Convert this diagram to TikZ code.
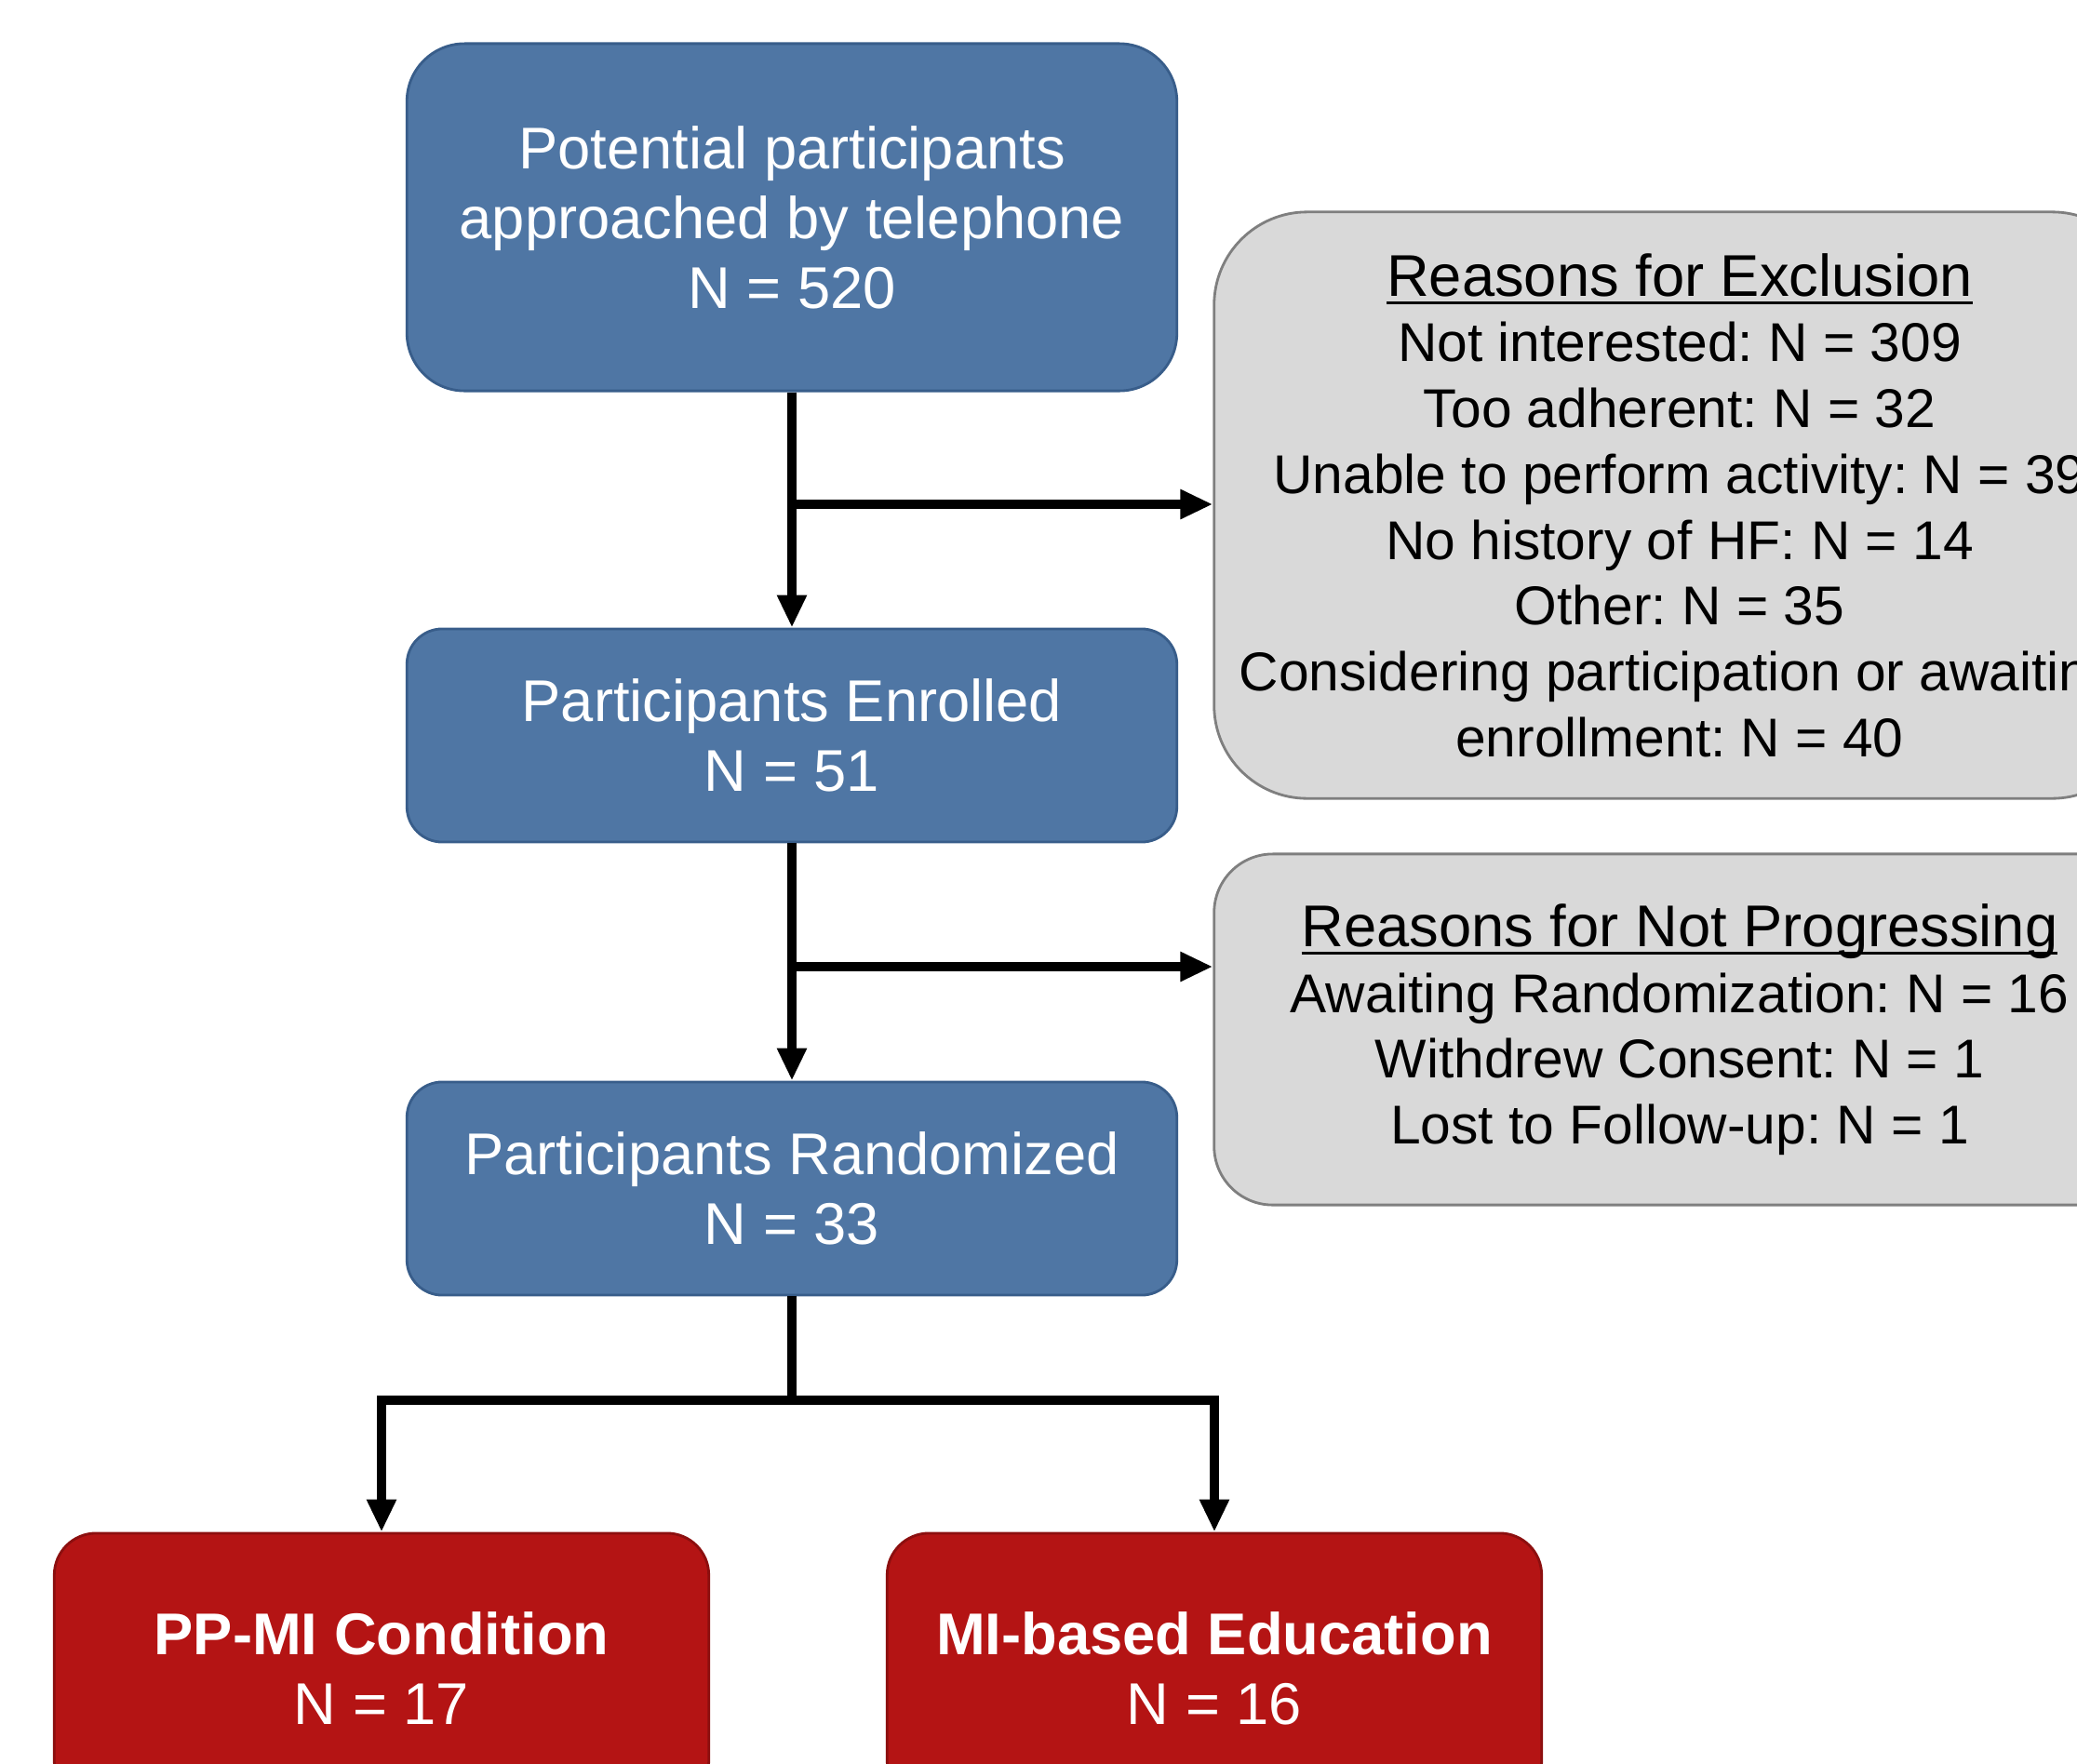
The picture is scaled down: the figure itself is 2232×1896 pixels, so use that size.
\documentclass[tikz,border=0pt]{standalone}
\usepackage{fontspec}
\setmainfont{Liberation Sans}
\usetikzlibrary{arrows.meta}
\frenchspacing

\definecolor{boxblue}{HTML}{4F76A4}
\definecolor{edgeblue}{HTML}{385D8A}
\definecolor{boxgray}{HTML}{D9D9D9}
\definecolor{edgegray}{HTML}{7F7F7F}
\definecolor{boxred}{HTML}{B41414}
\definecolor{edgered}{HTML}{8C0F0F}

% heading with a fixed underline under the baseline
\newcommand{\headline}[1]{\setbox0\hbox{#1}\rlap{\rule[-2.6pt]{\wd0}{0.9pt}}\box0}

\begin{document}
\begin{tikzpicture}[
      x=0.01cm, y=-0.01cm,
      stage/.style={draw=edgeblue, fill=boxblue, line width=0.8pt, text=white,
                    align=center, minimum width=8.27cm,
                    font=\fontsize{18}{21.3}\selectfont},
      reason/.style={draw=edgegray, fill=boxgray, line width=0.8pt, text=black,
                     align=center, minimum width=10cm,
                     font=\fontsize{16.7}{20.1}\selectfont},
      arm/.style={draw=edgered, fill=boxred, line width=0.8pt, text=white,
                  align=center, minimum width=7.03cm, minimum height=2.9cm,
                  rounded corners=0.45cm, font=\fontsize{18}{21.3}\selectfont},
      flow/.style={line width=2.6pt, -{Triangle[length=0.35cm, width=0.3cm]}}
    ]
      \useasboundingbox (0,0) rectangle (2232,1896);
      \clip (0,0) rectangle (2232,1896);

      % main stages
      \node[stage, minimum height=3.73cm, rounded corners=0.62cm] (approached) at (851,233.5)
        {Potential participants\\approached by telephone\\N = 520};
      \node[stage, minimum height=2.29cm, rounded corners=0.38cm] (enrolled) at (851,790.5)
        {Participants Enrolled\\N = 51};
      \node[stage, minimum height=2.29cm, rounded corners=0.38cm] (randomized) at (851,1277.5)
        {Participants Randomized\\N = 33};

      % side boxes
      \node[reason, minimum height=6.3cm, rounded corners=1.0cm] (exclusion) at (1805,543)
        {{\fontsize{18}{20.1}\selectfont\headline{Reasons for Exclusion}}\\
         Not interested: N = 309\\
         Too adherent: N = 32\\
         Unable to perform activity: N = 39\\
         No history of HF: N = 14\\
         Other: N = 35\\
         Considering participation or awaiting\\
         enrollment: N = 40};
      \node[reason, minimum height=3.77cm, rounded corners=0.63cm] (notprog) at (1805,1106.5)
        {{\fontsize{18}{20.1}\selectfont\headline{Reasons for Not Progressing}}\\
         Awaiting Randomization: N = 16\\
         Withdrew Consent: N = 1\\
         Lost to Follow-up: N = 1};

      % study arms
      \node[arm] (ppmi) at (410,1793) {\textbf{PP-MI Condition}\\N = 17};
      \node[arm] (education) at (1305,1793) {\textbf{MI-based Education}\\N = 16};

      % connectors
      \coordinate (forkA) at (851,542);
      \coordinate (forkB) at (851,1039);
      \coordinate (split) at (851,1505);
      \draw[flow] (approached.south) -- (enrolled.north);
      \draw[flow] (forkA) -- (forkA -| exclusion.west);
      \draw[flow] (enrolled.south) -- (randomized.north);
      \draw[flow] (forkB) -- (forkB -| notprog.west);
      \draw[line width=2.6pt] (randomized.south) -- (split);
      \draw[flow] (split) -| (ppmi.north);
      \draw[flow] (split) -| (education.north);
    \end{tikzpicture}
\end{document}
